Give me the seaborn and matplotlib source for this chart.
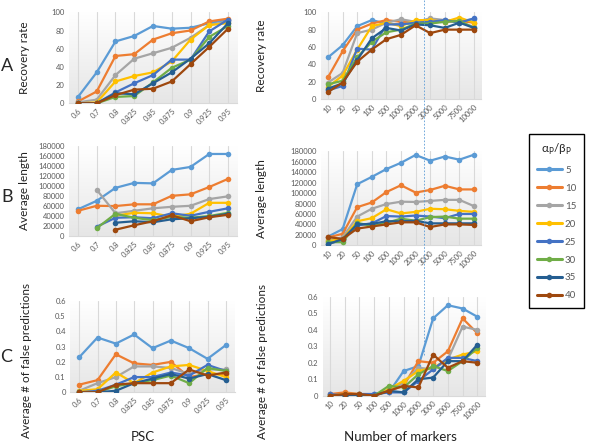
import numpy as np
import pandas as pd
import matplotlib.pyplot as plt
import seaborn as sns
from matplotlib.lines import Line2D

# categories
psc = ['0.6', '0.7', '0.8', '0.825', '0.85', '0.875', '0.9', '0.925', '0.95']
markers = ['10', '20', '50', '100', '500', '1000', '2000', '3000', '5000', '7500', '10000']
series = ['5', '10', '15', '20', '25', '30', '35', '40']
colors = ['#5B9BD5', '#ED7D31', '#A5A5A5', '#FFC000', '#4472C4', '#70AD47', '#255E91', '#9E480E']
nan = np.nan

# A - recovery rate vs PSC
rec_psc_5 = [7, 34, 68, 74, 85, 82, 83, 88, 92]
rec_psc_10 = [2, 13, 52, 54, 70, 77, 80, 90, 93]
rec_psc_15 = [1, 4, 31, 49, 55, 61, 72, 86, 90]
rec_psc_20 = [0, 1, 24, 30, 34, 46, 70, 86, 88]
rec_psc_25 = [0, 0, 12, 22, 31, 48, 48, 79, 92]
rec_psc_30 = [0, 0, 7, 8, 23, 39, 48, 73, 85]
rec_psc_35 = [0, 0, 11, 10, 22, 34, 49, 66, 88]
rec_psc_40 = [0, 0, 9, 15, 16, 24, 43, 62, 82]

# A - recovery rate vs number of markers
rec_mk_5 = [48, 62, 84, 91, 87, 86, 88, 90, 91, 90, 92]
rec_mk_10 = [25, 55, 80, 87, 91, 89, 89, 90, 89, 90, 88]
rec_mk_15 = [19, 30, 76, 80, 88, 92, 89, 93, 91, 89, 83]
rec_mk_20 = [14, 27, 57, 84, 88, 84, 91, 91, 89, 94, 88]
rec_mk_25 = [10, 15, 58, 57, 86, 86, 88, 89, 91, 88, 93]
rec_mk_30 = [17, 21, 48, 66, 77, 80, 87, 87, 89, 90, 82]
rec_mk_35 = [12, 18, 45, 70, 82, 79, 86, 85, 82, 88, 82]
rec_mk_40 = [8, 19, 43, 57, 69, 74, 85, 76, 80, 80, 80]

# B - average length vs PSC
len_psc_5 = [53000, 70000, 96000, 106000, 105000, 132000, 138000, 164000, 164000]
len_psc_10 = [50000, 60000, 59500, 63000, 63000, 80000, 83000, 97700, 114000]
len_psc_15 = [nan, 92000, 45000, 50000, 55000, 58000, 60000, 73500, 79000]
len_psc_20 = [nan, nan, 40000, 46000, 45000, 38000, 44000, 66000, 66000]
len_psc_25 = [nan, 18000, 36000, 37000, 35000, 45000, 40000, 48000, 55000]
len_psc_30 = [nan, 15000, 44000, 36000, 31000, 38000, 36000, 39500, 46000]
len_psc_35 = [nan, nan, 26000, 29000, 27000, 33000, 35000, 38000, 44000]
len_psc_40 = [nan, nan, 12000, 21000, 29000, 41000, 29000, 37000, 42000]

# B - average length vs number of markers
len_mk_5 = [16600, 31000, 117000, 131000, 146000, 158000, 173000, 162000, 170000, 164000, 173500]
len_mk_10 = [15000, 22000, 73000, 82000, 102000, 115000, 101000, 106000, 114000, 107000, 107000]
len_mk_15 = [10000, 15000, 55000, 70000, 79000, 83500, 83000, 85000, 87000, 87000, 75000]
len_mk_20 = [8000, 12000, 46000, 52000, 69000, 61000, 64000, 70000, 69000, 66000, 64000]
len_mk_25 = [3000, 10000, 38000, 42000, 56000, 55000, 57000, 55000, 52000, 60000, 60000]
len_mk_30 = [6000, 6000, 43000, 37000, 43000, 51000, 47000, 54000, 55000, 51000, 51000]
len_mk_35 = [2000, 12000, 40000, 41000, 46000, 46000, 47000, 42000, 42000, 42000, 42000]
len_mk_40 = [16000, 12000, 32000, 36000, 40000, 44000, 44000, 35000, 40000, 40000, 39000]

# C - false predictions vs PSC
fp_psc_5 = [0.23, 0.36, 0.32, 0.38, 0.29, 0.34, 0.29, 0.22, 0.31]
fp_psc_10 = [0.05, 0.08, 0.25, 0.19, 0.18, 0.20, 0.10, 0.12, 0.12]
fp_psc_15 = [0.01, 0.06, 0.10, 0.17, 0.17, 0.16, 0.12, 0.15, 0.15]
fp_psc_20 = [0.01, 0.02, 0.13, 0.06, 0.13, 0.17, 0.18, 0.14, 0.10]
fp_psc_25 = [0.00, 0.01, 0.05, 0.10, 0.10, 0.13, 0.11, 0.18, 0.14]
fp_psc_30 = [0.00, 0.00, 0.04, 0.06, 0.08, 0.11, 0.06, 0.16, 0.14]
fp_psc_35 = [0.00, 0.00, 0.01, 0.06, 0.09, 0.12, 0.09, 0.12, 0.08]
fp_psc_40 = [0.00, 0.00, 0.05, 0.06, 0.06, 0.06, 0.15, 0.11, 0.13]

# C - false predictions vs number of markers
fp_mk_5 = [0.01, 0.00, 0.01, 0.01, 0.02, 0.15, 0.18, 0.47, 0.55, 0.53, 0.48]
fp_mk_10 = [0.01, 0.02, 0.01, 0.00, 0.03, 0.06, 0.21, 0.20, 0.27, 0.47, 0.38]
fp_mk_15 = [0.00, 0.01, 0.01, 0.00, 0.03, 0.08, 0.17, 0.16, 0.22, 0.42, 0.40]
fp_mk_20 = [0.00, 0.01, 0.01, 0.00, 0.04, 0.09, 0.15, 0.17, 0.22, 0.25, 0.27]
fp_mk_25 = [0.01, 0.00, 0.01, 0.01, 0.02, 0.02, 0.09, 0.16, 0.23, 0.23, 0.21]
fp_mk_30 = [0.00, 0.00, 0.00, 0.00, 0.06, 0.05, 0.13, 0.18, 0.15, 0.21, 0.29]
fp_mk_35 = [0.00, 0.00, 0.00, 0.00, 0.03, 0.02, 0.10, 0.11, 0.21, 0.21, 0.31]
fp_mk_40 = [0.00, 0.01, 0.01, 0.00, 0.03, 0.06, 0.05, 0.25, 0.17, 0.21, 0.20]


def to_long(xcats, rows):
    recs = []
    for s, vals in zip(series, rows):
        for x, v in zip(xcats, vals):
            recs.append({'x': x, 'y': v, 'series': s})
    return pd.DataFrame(recs).dropna()


sns.set_style('white')
plt.rcParams['font.family'] = ['Lato', 'DejaVu Sans']
grey = '#595959'

fig = plt.figure(figsize=(6, 4.45), dpi=100)
W, H = 600, 445


def px_axes(l, r, t, b):
    return fig.add_axes([l / W, 1 - b / H, (r - l) / W, (b - t) / H])


panels = [
    (px_axes(68.6, 237.4, 12.3, 103.3), psc,
     [rec_psc_5, rec_psc_10, rec_psc_15, rec_psc_20, rec_psc_25, rec_psc_30, rec_psc_35, rec_psc_40],
     np.arange(0, 101, 20), 'Recovery rate'),
    (px_axes(320.7, 481.3, 12.3, 99), markers,
     [rec_mk_5, rec_mk_10, rec_mk_15, rec_mk_20, rec_mk_25, rec_mk_30, rec_mk_35, rec_mk_40],
     np.arange(0, 101, 20), 'Recovery rate'),
    (px_axes(68.6, 237.4, 146, 235.7), psc,
     [len_psc_5, len_psc_10, len_psc_15, len_psc_20, len_psc_25, len_psc_30, len_psc_35, len_psc_40],
     np.arange(0, 180001, 20000), 'Average length'),
    (px_axes(320.7, 481.3, 151.3, 245.3), markers,
     [len_mk_5, len_mk_10, len_mk_15, len_mk_20, len_mk_25, len_mk_30, len_mk_35, len_mk_40],
     np.arange(0, 180001, 20000), 'Average length'),
    (px_axes(70, 235, 301, 392.3), psc,
     [fp_psc_5, fp_psc_10, fp_psc_15, fp_psc_20, fp_psc_25, fp_psc_30, fp_psc_35, fp_psc_40],
     np.round(np.arange(0, 0.61, 0.1), 1), 'Average # of false predictions'),
    (px_axes(322.6, 484.7, 297, 395.7), markers,
     [fp_mk_5, fp_mk_10, fp_mk_15, fp_mk_20, fp_mk_25, fp_mk_30, fp_mk_35, fp_mk_40],
     np.round(np.arange(0, 0.61, 0.1), 1), 'Average # of false predictions'),
]

grad = np.linspace(1, 0, 100).reshape(-1, 1)
grad_cmap = sns.blend_palette(['#FFFFFF', '#E6E6E6'], as_cmap=True)

for i, (ax, xcats, rows, yticks, ylab) in enumerate(panels):
    df = to_long(xcats, rows)
    sns.lineplot(data=df, x='x', y='y', hue='series', hue_order=series, palette=colors,
                 marker='o', markersize=4, markeredgewidth=0, linewidth=1.6,
                 sort=False, errorbar=None, legend=False, ax=ax, zorder=3)
    n = len(xcats)
    ax.set_xlim(-0.5, n - 0.5)
    ax.set_ylim(yticks[0], yticks[-1])
    # soft vertical gradient behind the plot area
    ax.imshow(1 - grad, cmap=grad_cmap, extent=(-0.5, n - 0.5, yticks[0], yticks[-1]),
              aspect='auto', zorder=0, vmin=0, vmax=1)
    for k in range(n):
        ax.axvline(k, color='#D9D9D9', linewidth=0.8, zorder=1)
    ax.set_xticks(range(n))
    ax.set_xticklabels(xcats, rotation=45, ha='right', rotation_mode='anchor',
                       fontsize=5.5, color=grey)
    ax.set_yticks(yticks)
    ax.set_yticklabels([f'{t:g}' for t in yticks], fontsize=5.5, color=grey)
    ax.tick_params(length=0, pad=3)
    for sp in ['top', 'right', 'left']:
        ax.spines[sp].set_visible(False)
    ax.spines['bottom'].set_color('#D9D9D9')
    ax.set_ylabel(ylab, fontsize=8.5, color='#222222')
    ax.set_xlabel('')
    left = i % 2 == 0
    ylab_y = 0.5 if i < 4 else 0.35
    ax.yaxis.set_label_coords(-0.229 if left else -0.334, ylab_y)

fig.text(143 / W, 1 - 437 / H, 'PSC', fontsize=9.5, ha='center', va='center', color='#222222')
fig.text(400 / W, 1 - 437 / H, 'Number of markers', fontsize=9.5, ha='center', va='center',
         color='#222222')

for letter, (x, y) in zip(['A', 'B', 'C'], [(7, 66), (7, 197), (6, 357)]):
    fig.text(x / W, 1 - y / H, letter, fontsize=13, ha='center', va='center')

# dashed separator line across the right panels
fig.add_artist(Line2D([424 / W, 424 / W], [1.0, 1 - 355 / H], transform=fig.transFigure,
                      color='#5B9BD5', linestyle=(0, (2, 2)), linewidth=0.6))

handles = [Line2D([], [], color=c, marker='o', markersize=4, markeredgewidth=0, linewidth=2.2)
           for c in colors]
leg = fig.legend(handles, series, loc='upper left', bbox_to_anchor=(529 / W, 1 - 134 / H),
                 title='α$_\\mathrm{P}$/β$_\\mathrm{P}$', title_fontsize=8.5, fontsize=7,
                 frameon=True, fancybox=False, edgecolor='black', framealpha=1,
                 handlelength=2.6, handletextpad=0.3, labelspacing=0.92,
                 borderpad=0.8, borderaxespad=0)
leg.get_frame().set_linewidth(1.0)
for t in leg.get_texts():
    t.set_color(grey)

fig.savefig('out.png', dpi=100)
